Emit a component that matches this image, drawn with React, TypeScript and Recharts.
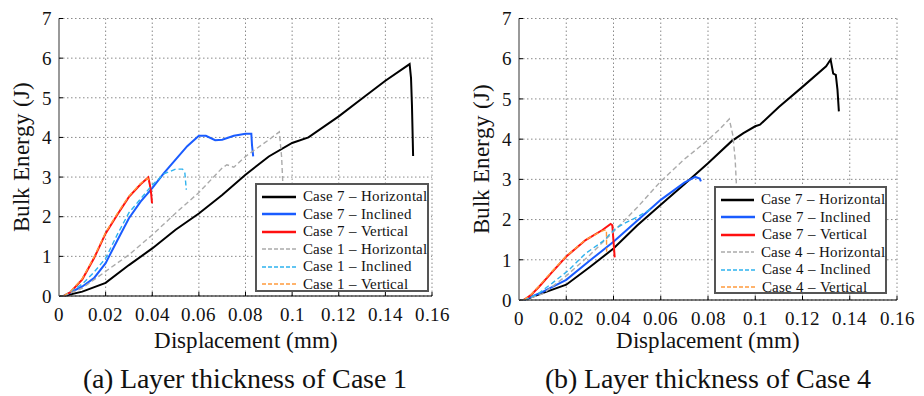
import React from 'react';
import { LineChart, Line, XAxis, YAxis, CartesianGrid, Legend, Label } from 'recharts';

// local alias so every text node resolves to the installed Times-metric face
const FONT_FACE = `@font-face { font-family: 'FigSerif'; src: local('Liberation Serif'), local('LiberationSerif'), local('LiberationSerif-Regular'), local('Times New Roman'); }`;
const FONT = "FigSerif, 'Liberation Serif', 'Times New Roman'";

const xTicks = [0, 0.02, 0.04, 0.06, 0.08, 0.1, 0.12, 0.14, 0.16];
const yTicks = [0, 1, 2, 3, 4, 5, 6, 7];

// (a) layer thickness of Case 1 — [displacement (mm), bulk energy (J)]
const a7Horizontal = [
  [0.002, 0], [0.01, 0.11], [0.02, 0.33], [0.03, 0.78], [0.04, 1.2], [0.05, 1.67],
  [0.06, 2.08], [0.07, 2.55], [0.08, 3.06], [0.09, 3.52], [0.1, 3.86], [0.107, 4.0],
  [0.12, 4.53], [0.13, 4.98], [0.14, 5.43], [0.1504, 5.85], [0.151, 5.5], [0.1514, 4.82],
  [0.1519, 3.53],
];
const a7Inclined = [
  [0.002, 0], [0.01, 0.24], [0.015, 0.45], [0.02, 0.83], [0.025, 1.4], [0.03, 1.96],
  [0.035, 2.38], [0.04, 2.72], [0.045, 3.1], [0.05, 3.44], [0.055, 3.78], [0.06, 4.04],
  [0.063, 4.04], [0.067, 3.93], [0.07, 3.94], [0.075, 4.04], [0.08, 4.09], [0.0825, 4.09],
  [0.0828, 3.8], [0.0833, 3.52],
];
const a7Vertical = [
  [0.002, 0], [0.005, 0.1], [0.01, 0.42], [0.015, 0.95], [0.02, 1.58], [0.025, 2.05],
  [0.03, 2.5], [0.035, 2.82], [0.0383, 2.99], [0.039, 2.8], [0.0395, 2.6], [0.0399, 2.34],
];
const a1Horizontal = [
  [0.002, 0], [0.01, 0.2], [0.02, 0.62], [0.03, 1.04], [0.04, 1.54], [0.05, 2.09],
  [0.06, 2.61], [0.07, 3.23], [0.072, 3.31], [0.075, 3.25], [0.08, 3.52], [0.09, 3.94],
  [0.0945, 4.14], [0.0955, 3.5], [0.096, 2.85],
];
const a1Inclined = [
  [0.002, 0], [0.01, 0.3], [0.015, 0.6], [0.02, 0.95], [0.025, 1.55], [0.03, 2.1],
  [0.035, 2.45], [0.04, 2.8], [0.045, 3.08], [0.05, 3.2], [0.053, 3.2], [0.054, 3.1],
  [0.0546, 2.68],
];
const a1Vertical = [
  [0.002, 0], [0.005, 0.12], [0.01, 0.44], [0.015, 0.98], [0.02, 1.6], [0.025, 2.08],
  [0.03, 2.52], [0.035, 2.84], [0.038, 2.97], [0.0388, 2.9],
];

// (b) layer thickness of Case 4
const b7Horizontal = [
  [0.002, 0], [0.01, 0.17], [0.02, 0.38], [0.03, 0.82], [0.04, 1.28], [0.05, 1.85],
  [0.06, 2.37], [0.07, 2.88], [0.08, 3.4], [0.09, 3.95], [0.095, 4.15], [0.1, 4.32],
  [0.102, 4.36], [0.11, 4.8], [0.12, 5.3], [0.13, 5.81], [0.1319, 5.98], [0.133, 5.63],
  [0.1341, 5.6], [0.1348, 5.23], [0.1354, 4.69],
];
const b7Inclined = [
  [0.002, 0], [0.01, 0.2], [0.02, 0.5], [0.03, 0.98], [0.04, 1.45], [0.05, 1.97],
  [0.06, 2.49], [0.07, 2.92], [0.0746, 3.06], [0.0765, 3.02], [0.077, 2.95],
];
const b7Vertical = [
  [0.002, 0], [0.005, 0.12], [0.0085, 0.33], [0.0141, 0.7], [0.02, 1.08], [0.0282, 1.49],
  [0.0353, 1.74], [0.0388, 1.89], [0.0395, 1.86], [0.0405, 1.06],
];
const b4Horizontal = [
  [0.002, 0], [0.01, 0.15], [0.02, 0.6], [0.03, 1.12], [0.04, 1.7], [0.05, 2.3],
  [0.06, 2.95], [0.07, 3.5], [0.08, 3.98], [0.085, 4.25], [0.089, 4.5], [0.0905, 4.1],
  [0.0915, 3.5], [0.092, 2.9],
];
const b4Inclined = [
  [0.002, 0], [0.008, 0.15], [0.0141, 0.42], [0.0212, 0.75], [0.0282, 1.16],
  [0.0353, 1.45], [0.0409, 1.78], [0.045, 1.92], [0.05, 2.06], [0.056, 2.27],
];
const b4Vertical = [
  [0.002, 0], [0.005, 0.13], [0.0085, 0.35], [0.0141, 0.72], [0.02, 1.09], [0.0282, 1.5],
  [0.0353, 1.72], [0.037, 1.75], [0.0371, 1.2],
];

type Series = { name: string; color: string; dashed: boolean; points: number[][] };

const makeSeries = (ref: string, sets: number[][][]): Series[] => [
  { name: 'Case 7 – Horizontal', color: '#000000', dashed: false, points: sets[0] },
  { name: 'Case 7 – Inclined', color: '#1a5cff', dashed: false, points: sets[1] },
  { name: 'Case 7 – Vertical', color: '#ff1010', dashed: false, points: sets[2] },
  { name: `Case ${ref} – Horizontal`, color: '#ababab', dashed: true, points: sets[3] },
  { name: `Case ${ref} – Inclined`, color: '#2eb2ee', dashed: true, points: sets[4] },
  { name: `Case ${ref} – Vertical`, color: '#ff9a3c', dashed: true, points: sets[5] },
];

const seriesA = makeSeries('1', [a7Horizontal, a7Inclined, a7Vertical, a1Horizontal, a1Inclined, a1Vertical]);
const seriesB = makeSeries('4', [b7Horizontal, b7Inclined, b7Vertical, b4Horizontal, b4Inclined, b4Vertical]);

const toRows = (pts: number[][]) => pts.map(([x, y]) => ({ x, y }));

const tickStyle = { fontFamily: FONT, fontSize: 19, fill: '#111' };

function LegendBox({ series }: { series: Series[] }) {
  return (
    <div
      style={{
        border: '2px solid #555',
        background: '#fff',
        padding: '3px 0 0 5px',
        boxSizing: 'border-box',
        width: '100%',
        height: '100%',
        fontFamily: FONT,
        fontSize: 14.6,
        color: '#111',
      }}
    >
      {series.map((s) => (
        <div key={s.name} style={{ display: 'flex', alignItems: 'center', height: 17.5 }}>
          <svg width={34} height={6} style={{ marginRight: 7 }}>
            <line
              x1={0}
              y1={3}
              x2={34}
              y2={3}
              stroke={s.color}
              strokeWidth={s.dashed ? 1.6 : 2.4}
              strokeDasharray={s.dashed ? '4 2' : undefined}
            />
          </svg>
          <span style={{ whiteSpace: 'nowrap' }}>{s.name}</span>
        </div>
      ))}
    </div>
  );
}

interface PanelProps {
  series: Series[];
  width: number;
  marginRight: number;
  xAxisHeight: number;
  legend: { left: number; top: number; width: number; height: number };
}

function Panel({ series, width, marginRight, xAxisHeight, legend }: PanelProps) {
  return (
    <LineChart
      width={width}
      height={360}
      margin={{ top: 18.5, right: marginRight, bottom: 0, left: 8 }}
      style={{ fontFamily: FONT }}
    >
      <CartesianGrid stroke="#8a8a8a" strokeDasharray="1.5 2.5" />
      <XAxis
        dataKey="x"
        type="number"
        domain={[0, 0.16]}
        ticks={xTicks}
        interval={0}
        allowDataOverflow
        height={xAxisHeight}
        tickSize={-4}
        tickMargin={16}
        tick={tickStyle}
        tickLine={{ stroke: '#000' }}
        axisLine={{ stroke: '#000' }}
        tickFormatter={(v: number) => String(v)}
      >
        <Label
          content={() => (
            <text
              x={59 + (width - 59 - marginRight) / 2}
              y={348}
              textAnchor="middle"
              style={{ fontFamily: FONT, fontSize: 22.5, fill: '#111' }}
            >
              Displacement (mm)
            </text>
          )}
        />
      </XAxis>
      <XAxis
        xAxisId="top"
        orientation="top"
        type="number"
        domain={[0, 0.16]}
        ticks={xTicks}
        interval={0}
        height={0}
        tickSize={-4}
        tickFormatter={() => ''}
        tickLine={{ stroke: '#000' }}
        axisLine={{ stroke: '#333' }}
      />
      <YAxis
        type="number"
        domain={[0, 7]}
        ticks={yTicks}
        interval={0}
        width={51}
        tickSize={-4}
        tickMargin={11}
        tick={tickStyle}
        tickLine={{ stroke: '#000' }}
        axisLine={{ stroke: '#999', strokeWidth: 2 }}
      >
        <Label
          content={(p: any) => {
            const cy = p.viewBox.y + p.viewBox.height / 2;
            return (
              <text
                x={28.5}
                y={cy}
                transform={`rotate(-90 28.5 ${cy})`}
                textAnchor="middle"
                style={{ fontFamily: FONT, fontSize: 22.5, fill: '#111' }}
              >
                Bulk Energy (J)
              </text>
            );
          }}
        />
      </YAxis>
      <YAxis
        yAxisId="right"
        orientation="right"
        type="number"
        domain={[0, 7]}
        ticks={yTicks}
        interval={0}
        width={0}
        tickSize={-4}
        tickFormatter={() => ''}
        tickLine={{ stroke: '#000' }}
        axisLine={{ stroke: '#333' }}
      />
      {series.map((s) => (
        <Line
          key={s.name}
          name={s.name}
          data={toRows(s.points)}
          dataKey="y"
          type="linear"
          stroke={s.color}
          strokeWidth={s.dashed ? 1.4 : 2}
          strokeDasharray={s.dashed ? '5 3' : undefined}
          dot={false}
          activeDot={false}
          isAnimationActive={false}
        />
      ))}
      <Legend
        layout="vertical"
        align="center"
        verticalAlign="middle"
        content={() => <LegendBox series={series} />}
        wrapperStyle={{ left: legend.left, top: legend.top, width: legend.width, height: legend.height }}
      />
    </LineChart>
  );
}

const captionStyle: React.CSSProperties = {
  position: 'absolute',
  top: 362,
  height: 34,
  lineHeight: '34px',
  textAlign: 'center',
  fontSize: 28,
  color: '#111',
  whiteSpace: 'nowrap',
};

export default function App() {
  return (
    <div
      style={{
        position: 'absolute',
        left: 0,
        top: 0,
        width: 924,
        height: 396,
        background: '#fff',
        overflow: 'hidden',
        fontFamily: FONT,
      }}
    >
      <style>{FONT_FACE}</style>
      <div style={{ position: 'absolute', left: 0, top: 0 }}>
        <Panel series={seriesA} width={460} marginRight={28} xAxisHeight={64} legend={{ left: 255, top: 183, width: 174, height: 109 }} />
      </div>
      <div style={{ position: 'absolute', left: 460, top: 0 }}>
        <Panel series={seriesB} width={464} marginRight={27} xAxisHeight={60} legend={{ left: 254, top: 186, width: 173, height: 108 }} />
      </div>
      <div style={{ ...captionStyle, left: 45, width: 400 }}>(a) Layer thickness of Case 1</div>
      <div style={{ ...captionStyle, left: 508, width: 400 }}>(b) Layer thickness of Case 4</div>
    </div>
  );
}
